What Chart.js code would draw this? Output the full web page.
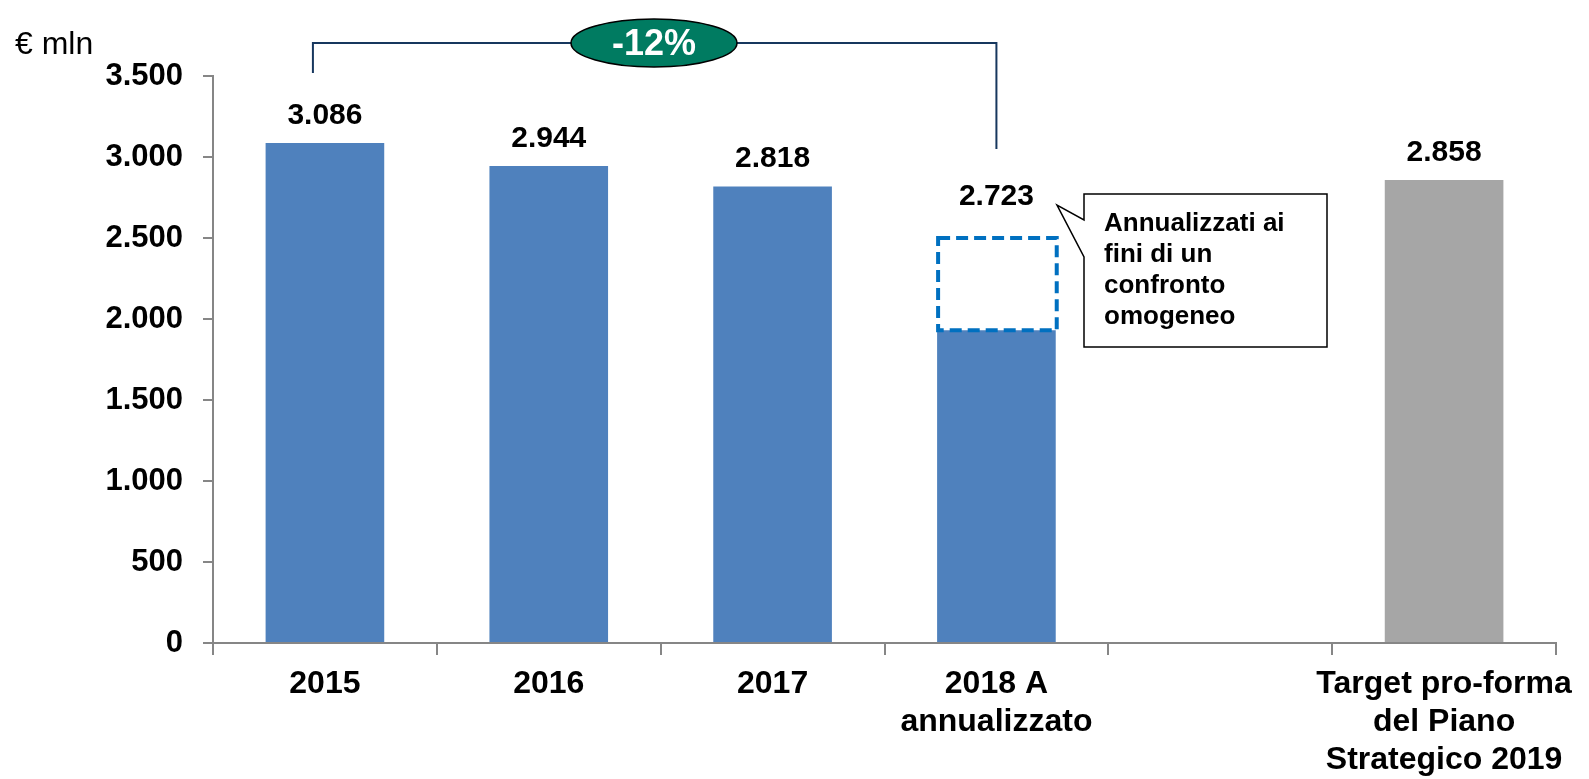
<!DOCTYPE html>
<html>
<head>
<meta charset="utf-8">
<script src="https://cdn.jsdelivr.net/npm/chart.js@4/dist/chart.umd.min.js"></script>
<style>
  html, body { margin: 0; padding: 0; background: #fff; }
  canvas { display: block; }
</style>
</head>
<body>
<canvas id="costChart" width="1589" height="779"></canvas>
<script>
const FONT = "'Liberation Sans', Arial, sans-serif";
const AXIS_GREY = '#868686';

// categories (multi-line labels as arrays), empty slot before the target bar
const categories = ['2015', '2016', '2017', ['2018 A', 'annualizzato'], '', ['Target pro-forma', 'del Piano', 'Strategico 2019']];
// solid blue part (for 2018 only the part actually booked)
const actualValues = [3086, 2944, 2818, 1930, null, null];
// dashed outline on top of 2018 = annualization
const annualizedExtra = [null, null, null, 570, null, null];
const targetValues = [null, null, null, null, null, 2858];
const valueLabels = ['3.086', '2.944', '2.818', '2.723', '', '2.858'];
const yTicks = [0, 500, 1000, 1500, 2000, 2500, 3000, 3500];

const calloutLines = ['Annualizzati ai', 'fini di un', 'confronto', 'omogeneo'];
const deltaLabel = '-12%';

function fmt(v) {
  return String(v).replace(/\B(?=(\d{3})+(?!\d))/g, '.');
}

// value labels + dashed box for the annualized part
const barExtras = {
  id: 'barExtras',
  afterDatasetsDraw(chart) {
    const c = chart.ctx;
    const dashedEl = chart.getDatasetMeta(1).data[3];

    c.save();
    c.strokeStyle = '#0070C0';
    c.lineWidth = 4;
    c.setLineDash([12, 6]);
    const p = dashedEl.getProps(['x', 'y', 'base', 'width'], true);
    c.strokeRect(p.x - p.width / 2 + 1, p.y, p.width, p.base - p.y);
    c.restore();

    c.save();
    c.font = `bold 30px ${FONT}`;
    c.fillStyle = '#000';
    c.textAlign = 'center';
    c.textBaseline = 'alphabetic';
    valueLabels.forEach((txt, i) => {
      if (!txt) return;
      let top = null, x = null, dashedTop = false;
      chart.data.datasets.forEach((ds, di) => {
        if (ds.data[i] == null) return;
        const el = chart.getDatasetMeta(di).data[i];
        if (top === null || el.y < top) {
          top = el.y; x = el.x; dashedTop = di === 1;
        }
      });
      c.fillText(txt, x, top - (dashedTop ? 33 : 19));
    });
    c.restore();
  },
  afterDraw(chart) {
    const c = chart.ctx;
    const xs = chart.scales.x;

    // unit label
    c.save();
    c.font = `32px ${FONT}`;
    c.fillStyle = '#000';
    c.textAlign = 'left';
    c.fillText('€ mln', 15, 54);
    c.restore();

    // bracket 2015 -> 2018
    const xl = xs.getPixelForValue(0) - 12;
    const xr = xs.getPixelForValue(3);
    c.save();
    c.strokeStyle = '#17375E';
    c.lineWidth = 2;
    c.beginPath();
    c.moveTo(xl, 73);
    c.lineTo(xl, 43);
    c.lineTo(xr, 43);
    c.lineTo(xr, 149);
    c.stroke();

    // green ellipse with delta
    c.beginPath();
    c.ellipse(654, 43, 83, 24, 0, 0, Math.PI * 2);
    c.fillStyle = '#007B61';
    c.fill();
    c.lineWidth = 1.5;
    c.strokeStyle = '#000';
    c.stroke();
    c.fillStyle = '#fff';
    c.font = `bold 36px ${FONT}`;
    c.textAlign = 'center';
    c.textBaseline = 'middle';
    c.fillText(deltaLabel, 654, 45);
    c.restore();

    // callout box
    c.save();
    c.beginPath();
    c.moveTo(1084, 194);
    c.lineTo(1327, 194);
    c.lineTo(1327, 347);
    c.lineTo(1084, 347);
    c.lineTo(1084, 257);
    c.lineTo(1057, 205);
    c.lineTo(1084, 220);
    c.closePath();
    c.fillStyle = '#fff';
    c.fill();
    c.strokeStyle = '#000';
    c.lineWidth = 1.5;
    c.stroke();
    c.fillStyle = '#000';
    c.font = `bold 26px ${FONT}`;
    c.textAlign = 'left';
    c.textBaseline = 'alphabetic';
    calloutLines.forEach((t, i) => c.fillText(t, 1104, 231 + i * 31));
    c.restore();
  }
};

new Chart(document.getElementById('costChart').getContext('2d'), {
  type: 'bar',
  data: {
    labels: categories,
    datasets: [
      { label: 'Consuntivo', data: actualValues, backgroundColor: '#4F81BD' },
      { label: 'Annualizzazione', data: annualizedExtra, backgroundColor: 'rgba(0,0,0,0)' },
      { label: 'Target', data: targetValues, backgroundColor: '#A6A6A6' }
    ]
  },
  options: {
    responsive: false,
    animation: false,
    categoryPercentage: 1,
    barPercentage: 0.53,
    layout: { padding: { top: 76, right: 33, left: 0, bottom: 0 } },
    plugins: { legend: { display: false }, tooltip: { enabled: false } },
    scales: {
      x: {
        stacked: true,
        grid: { display: true, drawOnChartArea: false, offset: true, tickLength: 12, color: AXIS_GREY, lineWidth: 2 },
        border: { color: AXIS_GREY, width: 2 },
        ticks: { color: '#000', font: { family: FONT, size: 32, weight: 'bold', lineHeight: 1.19 }, padding: 10, maxRotation: 0, autoSkip: false },
        afterFit: s => { s.height = 136; }
      },
      y: {
        stacked: true,
        min: 0,
        max: yTicks[yTicks.length - 1],
        afterBuildTicks: s => { s.ticks = yTicks.map(v => ({ value: v })); },
        grid: { drawOnChartArea: false, tickLength: 10, color: AXIS_GREY, lineWidth: 2 },
        border: { color: AXIS_GREY, width: 2 },
        ticks: { color: '#000', font: { family: FONT, size: 31, weight: 'bold' }, padding: 20, callback: v => fmt(v) },
        afterFit: s => { s.width = 213; }
      }
    }
  },
  plugins: [barExtras]
});
</script>
</body>
</html>
